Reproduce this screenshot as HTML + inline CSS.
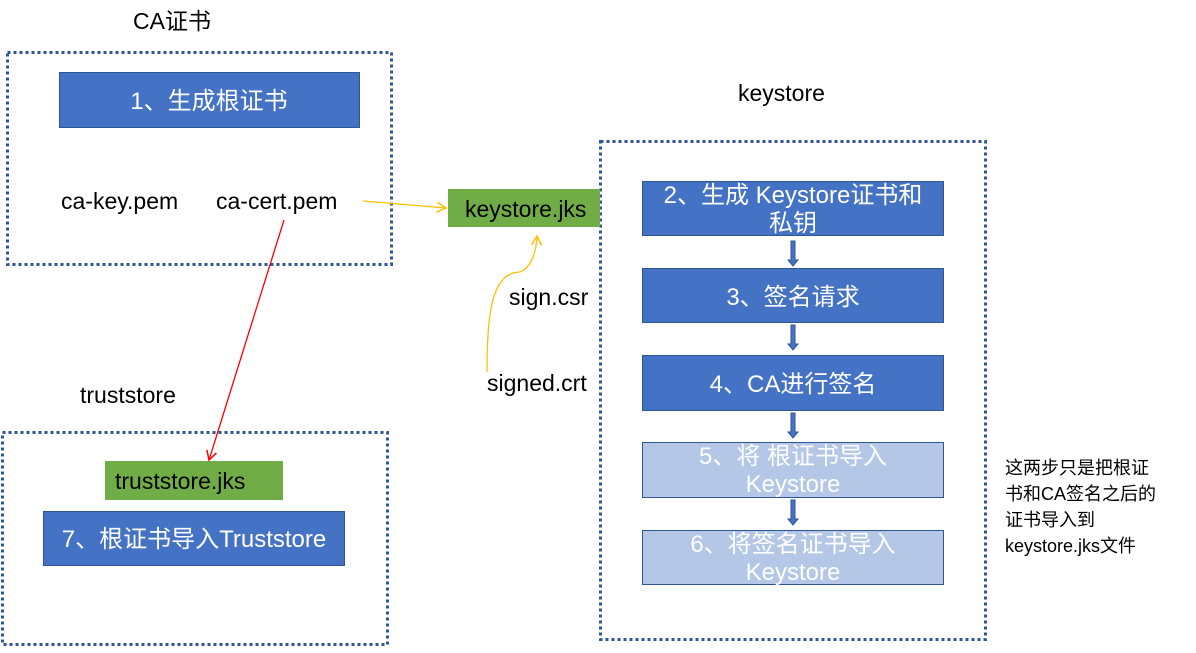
<!DOCTYPE html>
<html><head><meta charset="utf-8"><style>
html,body{margin:0;padding:0;background:#fff;}
svg text{font-family:"Liberation Sans","Noto Sans CJK SC",sans-serif;}
</style></head><body>
<svg width="1196" height="648" viewBox="0 0 1196 648" xmlns="http://www.w3.org/2000/svg">
<defs>
<marker id="ar" markerWidth="12" markerHeight="12" refX="10" refY="6" orient="auto" markerUnits="userSpaceOnUse"><path d="M1,1 L10,6 L1,11" fill="none" stroke="#FFC000" stroke-width="1.5"/></marker>
<marker id="rr" markerWidth="12" markerHeight="12" refX="10" refY="6" orient="auto" markerUnits="userSpaceOnUse"><path d="M1,1 L10,6 L1,11" fill="none" stroke="#FF0000" stroke-width="1.5"/></marker>
</defs>
<g fill="none" stroke="#2F5597" stroke-width="3" stroke-dasharray="3 3">
<rect x="7.5" y="52.5" width="384" height="212"/>
<rect x="600.5" y="141.5" width="385" height="498"/>
<rect x="2.5" y="432.5" width="385" height="212"/>
</g>
<g font-size="23" fill="#000">
<text x="133" y="29">CA证书</text>
<text x="738" y="101">keystore</text>
<text x="80" y="403">truststore</text>
<text x="61" y="209">ca-key.pem</text>
<text x="216" y="209">ca-cert.pem</text>
<text x="509" y="305">sign.csr</text>
<text x="487" y="391">signed.crt</text>
</g>
<rect x="448" y="189" width="152" height="38" fill="#70AD47"/>
<text x="465" y="217" font-size="23">keystore.jks</text>
<rect x="105" y="461" width="178" height="39" fill="#70AD47"/>
<text x="115" y="489" font-size="23">truststore.jks</text>
<g stroke="#2F5597" stroke-width="1">
<rect x="59.5" y="72.5" width="300" height="55" fill="#4472C4"/>
<rect x="43.5" y="511.5" width="301" height="54" fill="#4472C4"/>
<rect x="642.5" y="181.5" width="301" height="54" fill="#4472C4"/>
<rect x="642.5" y="268.5" width="301" height="54" fill="#4472C4"/>
<rect x="642.5" y="355.5" width="301" height="55" fill="#4472C4"/>
<rect x="642.5" y="442.5" width="301" height="55" fill="#B4C7E7"/>
<rect x="642.5" y="530.5" width="301" height="54" fill="#B4C7E7"/>
</g>
<g fill="#fff" font-size="24" text-anchor="middle">
<text x="209" y="109">1、生成根证书</text>
<text x="194" y="547">7、根证书导入Truststore</text>
<text x="793" y="203">2、生成 Keystore证书和</text>
<text x="793" y="231">私钥</text>
<text x="793" y="305">3、签名请求</text>
<text x="793" y="392">4、CA进行签名</text>
<text x="793" y="464">5、将 根证书导入</text>
<text x="793" y="492">Keystore</text>
<text x="793" y="552">6、将签名证书导入</text>
<text x="793" y="580">Keystore</text>
</g>
<g fill="#4472C4" stroke="#2F5597" stroke-width="1">
<path d="M791,241 h4 v19 h3 l-5,6 l-5,-6 h3 z"/>
<path d="M791,325 h4 v19 h3 l-5,6 l-5,-6 h3 z"/>
<path d="M791,413 h4 v19 h3 l-5,6 l-5,-6 h3 z"/>
<path d="M791,500 h4 v19 h3 l-5,6 l-5,-6 h3 z"/>
</g>
<g font-size="18" fill="#000">
<text x="1005" y="474">这两步只是把根证</text>
<text x="1005" y="500">书和CA签名之后的</text>
<text x="1005" y="526">证书导入到</text>
<text x="1005" y="552">keystore.jks文件</text>
</g>
<line x1="363" y1="201" x2="446" y2="208" stroke="#FFC000" stroke-width="1.3" marker-end="url(#ar)"/>
<path d="M487,372 C487,320 490,272 520,272 C530,268 536,255 537,236" fill="none" stroke="#FFC000" stroke-width="1.3" marker-end="url(#ar)"/>
<line x1="284" y1="220" x2="209" y2="460" stroke="#FF0000" stroke-width="1.3" marker-end="url(#rr)"/>
</svg>
</body></html>
